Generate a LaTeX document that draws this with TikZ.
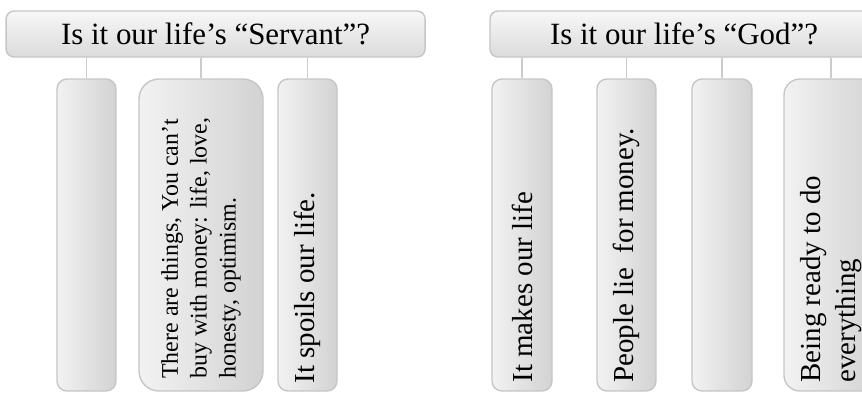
\documentclass[tikz,border=0pt]{standalone}
\usepackage{fontspec}
\setmainfont{Liberation Serif}

\tikzset{
	header/.style={draw=gray!45, line width=1pt, rounded corners=0.2cm, top color=gray!6, bottom color=gray!28, minimum height=1.15cm, inner sep=0pt, font=\fontsize{22pt}{26pt}\selectfont},
	pillar/.style={draw=gray!45, line width=1pt, rounded corners=0.25cm, left color=gray!10, right color=gray!35, minimum height=7.8cm, inner sep=0pt},
	vtext/.style={rotate=90, anchor=west, inner sep=0pt, align=left, font=\fontsize{20.6pt}{24.7pt}\selectfont},
	vsmall/.style={vtext, font=\fontsize{17pt}{20.6pt}\selectfont},
	link/.style={draw=gray!40, line width=1.3pt}
}

\begin{document}
\begin{tikzpicture}

	% Frame
	\useasboundingbox (0,0) rectangle (21.55,-9.8);

	% Headers
	\node[header, minimum width=10.475cm] (hdL) at (5.39,-0.85) {Is it our life’s “Servant”?};
	\node[header, minimum width=9.7cm] (hdR) at (17.1,-0.85) {Is it our life’s “God”?};

	% Pillars under "Servant"
	\node[pillar, minimum width=1.475cm] (L1) at (2.1625,-5.875) {};
	\node[pillar, minimum width=3.1cm, rounded corners=0.5cm] (L2) at (5.025,-5.875) {};
	\node[pillar, minimum width=1.475cm] (L3) at (7.6875,-5.875) {};

	% Pillars under "God"
	\node[pillar, minimum width=1.5cm] (R1) at (13.05,-5.875) {};
	\node[pillar, minimum width=1.475cm] (R2) at (15.6625,-5.875) {};
	\node[pillar, minimum width=1.5cm] (R3) at (18.05,-5.875) {};
	\node[pillar, minimum width=2.35cm, rounded corners=0.4cm] (R4) at (20.775,-5.875) {};

	% Links
	\draw[link] (L1.north) -- (L1.north |- hdL.south);
	\draw[link] (L2.north) -- (L2.north |- hdL.south);
	\draw[link] (L3.north) -- (L3.north |- hdL.south);
	\draw[link] (R1.north) -- (R1.north |- hdR.south);
	\draw[link] (R2.north) -- (R2.north |- hdR.south);
	\draw[link] (R3.north) -- (R3.north |- hdR.south);
	\draw[link] (R4.north) -- (R4.north |- hdR.south);

	% Texts
	\node[vsmall] (tL2) at ([yshift=0.32cm]L2.south) {There are things, You can’t\\buy with money: life, love,\\honesty, optimism.};
	\node[vtext] (tL3) at ([yshift=0.2cm]L3.south) {It spoils our life.};
	\node[vtext] (tR1) at ([yshift=0.22cm]R1.south) {It makes our life};
	\node[vtext] (tR2) at ([yshift=0.22cm]R2.south) {People lie\ \ for money.};
	\node[vtext] (tR4) at ([yshift=0.22cm]R4.south) {Being ready to do\\everything};

\end{tikzpicture}
\end{document}
